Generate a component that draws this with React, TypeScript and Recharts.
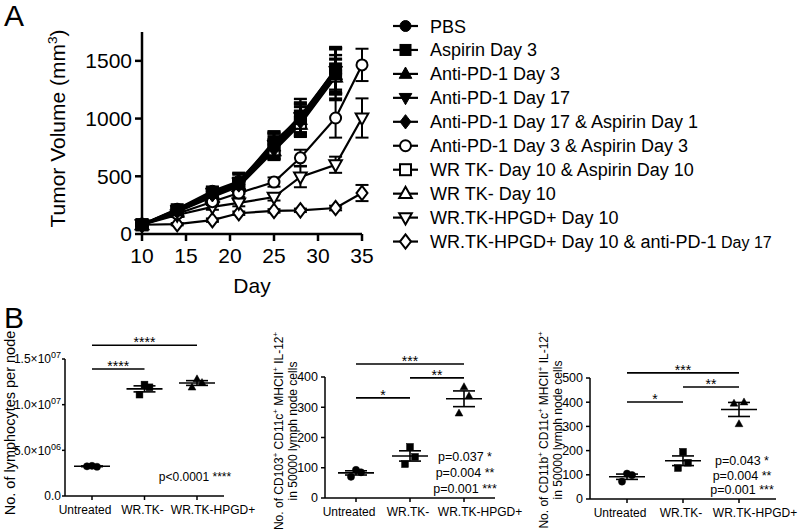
import React from 'react';
import { ComposedChart, Line, XAxis, YAxis, ErrorBar, ReferenceLine } from 'recharts';

const FONT = '"Liberation Sans", Arial, Helvetica, sans-serif';

// ---------------- Panel A data ----------------
const days = [10, 14, 18, 21, 25, 28, 32, 35];
const seriesNames = [
  'PBS',
  'Aspirin Day 3',
  'Anti-PD-1 Day 3',
  'Anti-PD-1 Day 17',
  'Anti-PD-1 Day 17 & Aspirin Day 1',
  'Anti-PD-1 Day 3 & Aspirin Day 3',
  'WR TK- Day 10 & Aspirin Day 10',
  'WR TK- Day 10',
  'WR.TK-HPGD+ Day 10',
  'WR.TK-HPGD+ Day 10 & anti-PD-1 Day 17',
];
const pbs = [80, 215, 370, 455, 780, 1020, 1420, null];
const pbsErr = [12, 30, 40, 70, 100, 150, 200, null];
const aspirinD3 = [80, 210, 360, 440, 800, 1000, 1430, null];
const aspirinD3Err = [12, 25, 35, 90, 90, 120, 180, null];
const antiPd1D3 = [80, 200, 350, 425, 760, 990, 1380, null];
const antiPd1D3Err = [12, 25, 30, 60, 110, 140, 220, null];
const antiPd1D17 = [80, 205, 355, 445, 770, 1010, 1410, null];
const antiPd1D17Err = [12, 25, 35, 70, 100, 130, 200, null];
const antiPd1D17AspD1 = [80, 200, 345, 430, 740, 980, 1390, null];
const antiPd1D17AspD1Err = [12, 20, 30, 50, 80, 120, 160, null];
const antiPd1D3AspD3 = [80, 175, 280, 355, 450, 660, 1005, 1465];
const antiPd1D3AspD3Err = [10, 20, 30, 35, 40, 70, 170, 140];
const wrTkAspD10 = [80, 195, 330, 420, 730, 960, 1370, null];
const wrTkAspD10Err = [10, 20, 30, 45, 80, 110, 150, null];
const wrTkD10 = [80, 190, 320, 410, 720, 950, 1360, null];
const wrTkD10Err = [10, 20, 30, 45, 80, 110, 150, null];
const hpgdD10 = [80, 165, 235, 270, 320, 495, 600, 1005];
const hpgdD10Err = [10, 15, 25, 30, 30, 90, 70, 170];
const hpgdD10Pd1 = [80, 85, 120, 180, 200, 205, 225, 355];
const hpgdD10Pd1Err = [10, 10, 15, 15, 15, 15, 20, 70];

type Shape = 'circle' | 'square' | 'triUp' | 'triDown' | 'diamond';

const seriesA: { key: string; name: string; values: (number | null)[]; errors: (number | null)[]; shape: Shape; filled: boolean }[] = [
  { key: 'pbs', name: seriesNames[0], values: pbs, errors: pbsErr, shape: 'circle', filled: true },
  { key: 'aspD3', name: seriesNames[1], values: aspirinD3, errors: aspirinD3Err, shape: 'square', filled: true },
  { key: 'pd1D3', name: seriesNames[2], values: antiPd1D3, errors: antiPd1D3Err, shape: 'triUp', filled: true },
  { key: 'pd1D17', name: seriesNames[3], values: antiPd1D17, errors: antiPd1D17Err, shape: 'triDown', filled: true },
  { key: 'pd1D17Asp', name: seriesNames[4], values: antiPd1D17AspD1, errors: antiPd1D17AspD1Err, shape: 'diamond', filled: true },
  { key: 'pd1D3Asp', name: seriesNames[5], values: antiPd1D3AspD3, errors: antiPd1D3AspD3Err, shape: 'circle', filled: false },
  { key: 'wrTkAsp', name: seriesNames[6], values: wrTkAspD10, errors: wrTkAspD10Err, shape: 'square', filled: false },
  { key: 'wrTk', name: seriesNames[7], values: wrTkD10, errors: wrTkD10Err, shape: 'triUp', filled: false },
  { key: 'hpgd', name: seriesNames[8], values: hpgdD10, errors: hpgdD10Err, shape: 'triDown', filled: false },
  { key: 'hpgdPd1', name: seriesNames[9], values: hpgdD10Pd1, errors: hpgdD10Pd1Err, shape: 'diamond', filled: false },
];

const tableA = days.map((day, i) => {
  const row: Record<string, number | null> = { day };
  seriesA.forEach((s) => {
    row[s.key] = s.values[i];
    row[s.key + 'Err'] = s.errors[i];
  });
  return row;
});

// ---------------- Panel B data ----------------
const groups = ['Untreated', 'WR.TK-', 'WR.TK-HPGD+'];

const lymphMean = [3.25e6, 11.73e6, 12.37e6];
const lymphSem = [0.04e6, 0.33e6, 0.26e6];
const lymphPts = [[3.3e6, 3.2e6, 3.25e6], [12.2e6, 11.9e6, 11.1e6], [12.8e6, 12.4e6, 11.9e6]];
const lymphTicks = [0, 5e6, 1e7, 1.5e7];

const cd103Mean = [83, 139, 328];
const cd103Sem = [7, 17, 26];
const cd103Pts = [[93, 85, 70], [169, 136, 112], [367, 337, 280]];
const cd103Ticks = [0, 100, 200, 300, 400];

const cd11bMean = [92, 158, 370];
const cd11bSem = [11, 20, 29];
const cd11bPts = [[105, 99, 72], [195, 150, 128], [310, 400, 395]];
const cd11bTicks = [0, 100, 200, 300, 400, 500];

type Sig = { from: string; to: string; y: number; label: string };
const lymphSig: Sig[] = [
  { from: 'Untreated', to: 'WR.TK-', y: 13.9e6, label: '****' },
  { from: 'Untreated', to: 'WR.TK-HPGD+', y: 16.5e6, label: '****' },
];
const cd103Sig: Sig[] = [
  { from: 'Untreated', to: 'WR.TK-', y: 331, label: '*' },
  { from: 'WR.TK-', to: 'WR.TK-HPGD+', y: 397, label: '**' },
  { from: 'Untreated', to: 'WR.TK-HPGD+', y: 443, label: '***' },
];
const cd11bSig: Sig[] = [
  { from: 'Untreated', to: 'WR.TK-', y: 401, label: '*' },
  { from: 'WR.TK-', to: 'WR.TK-HPGD+', y: 463, label: '**' },
  { from: 'Untreated', to: 'WR.TK-HPGD+', y: 521, label: '***' },
];

const lymphP = ['p<0.0001 ****'];
const cd103P = ['p=0.037 *', 'p=0.004 **', 'p=0.001 ***'];
const cd11bP = ['p=0.043 *', 'p=0.004 **', 'p=0.001 ***'];

const buildRows = (mean: number[], sem: number[], pts: number[][]) =>
  groups.map((g, i) => ({ group: g, mean: mean[i], sem: sem[i], p0: pts[i][0], p1: pts[i][1], p2: pts[i][2] }));

const lymphRows = buildRows(lymphMean, lymphSem, lymphPts);
const cd103Rows = buildRows(cd103Mean, cd103Sem, cd103Pts);
const cd11bRows = buildRows(cd11bMean, cd11bSem, cd11bPts);

// ---------------- helpers ----------------
function Marker({ shape, filled, cx, cy, r, sw }: { shape: Shape; filled: boolean; cx: number; cy: number; r: number; sw: number }) {
  const common = { fill: filled ? '#000' : '#fff', stroke: '#000', strokeWidth: sw };
  switch (shape) {
    case 'circle':
      return <circle cx={cx} cy={cy} r={r} {...common} />;
    case 'square':
      return <rect x={cx - r} y={cy - r} width={2 * r} height={2 * r} {...common} />;
    case 'triUp':
      return <polygon points={`${cx},${cy - r * 1.25} ${cx + r * 1.15},${cy + r * 0.8} ${cx - r * 1.15},${cy + r * 0.8}`} {...common} />;
    case 'triDown':
      return <polygon points={`${cx},${cy + r * 1.25} ${cx + r * 1.15},${cy - r * 0.8} ${cx - r * 1.15},${cy - r * 0.8}`} {...common} />;
    default:
      return <polygon points={`${cx},${cy - r * 1.3} ${cx + r},${cy} ${cx},${cy + r * 1.3} ${cx - r},${cy}`} {...common} />;
  }
}

function renderRich(s: string, supSize: number, shift: number) {
  const parts = s.split('^');
  return parts.map((t, i) =>
    i % 2 === 1 ? (
      <tspan key={i} dy={-shift} fontSize={supSize}>{t}</tspan>
    ) : (
      <tspan key={i} dy={i === 0 ? 0 : shift}>{t}</tspan>
    )
  );
}

const vTitle = (lines: string[], baseX: number[], fontSize: number, dyCenter: number) => (props: any) => {
  const vb = props.viewBox || { x: 0, y: 0, width: 0, height: 0 };
  const cy = vb.y + vb.height / 2 + dyCenter;
  return (
    <g>
      {lines.map((l, i) => {
        const x = vb.x + baseX[i];
        return (
          <text key={i} x={x} y={cy} transform={`rotate(-90 ${x} ${cy})`} textAnchor="middle" fontSize={fontSize} fontFamily={FONT} fill="#000">
            {renderRich(l, fontSize * 0.65, fontSize * 0.38)}
          </text>
        );
      })}
    </g>
  );
};

function SciTick(props: any) {
  const { x, y, payload } = props;
  const v = payload.value as number;
  let main = '0.0';
  let exp = '';
  if (v !== 0) {
    const e = Math.floor(Math.log10(v));
    main = (v / Math.pow(10, e)).toFixed(1) + '×10';
    exp = String(e).padStart(2, '0');
  }
  return (
    <text x={x} y={y} dy={4.3} textAnchor="end" fontSize={12} fontFamily={FONT} fill="#000">
      {main}
      {exp && <tspan dy={-5} fontSize={9}>{exp}</tspan>}
    </text>
  );
}

// group label offsets (labels in the figure are not exactly centred on their ticks)
const LABEL_DX = [-7, -2, 16];
function CatTick(props: any) {
  const { x, y, payload } = props;
  const idx = groups.indexOf(payload.value);
  return (
    <text x={x + (LABEL_DX[idx] || 0)} y={y} dy={8.5} textAnchor="middle" fontSize={12} fontFamily={FONT} fill="#000">
      {payload.value}
    </text>
  );
}

const JITTER = [0, 5, -5];
const GROUP_SHAPES: Shape[] = ['circle', 'square', 'triUp'];

function DotPlot(props: {
  left: number; top: number; width: number; height: number;
  margin: { top: number; right: number; bottom: number; left: number };
  yWidth: number; pad: number; rows: any[]; domain: [number, number]; ticks: number[];
  tick?: any; tickSize: number; tickMargin: number; title: any; sig: Sig[];
}) {
  const { left, top, width, height, margin, yWidth, pad, rows, domain, ticks, tick, tickSize, tickMargin, title, sig } = props;
  return (
    <div style={{ position: 'absolute', left, top }}>
      <ComposedChart width={width} height={height} data={rows} margin={margin}>
        <XAxis
          dataKey="group"
          type="category"
          interval={0}
          padding={{ left: pad, right: pad }}
          height={30}
          tickSize={4}
          tickMargin={5}
          axisLine={{ stroke: '#000', strokeWidth: 1.5 }}
          tickLine={{ stroke: '#000', strokeWidth: 1.5 }}
          tick={<CatTick />}
        />
        <YAxis
          type="number"
          width={yWidth}
          domain={domain}
          ticks={ticks}
          interval={0}
          tickSize={tickSize}
          tickMargin={tickMargin}
          axisLine={{ stroke: '#000', strokeWidth: 1.5 }}
          tickLine={{ stroke: '#000', strokeWidth: 1.5 }}
          tick={tick || { fontSize: 12.5, fill: '#000', fontFamily: FONT }}
          label={title}
        />
        {sig.map((s, i) => (
          <ReferenceLine
            key={i}
            segment={[{ x: s.from, y: s.y }, { x: s.to, y: s.y }]}
            stroke="#000"
            strokeWidth={1.6}
            ifOverflow="visible"
            label={{ value: s.label, position: 'top', offset: -2, fontSize: 14, fill: '#000', fontFamily: FONT }}
          />
        ))}
        <Line
          dataKey="mean"
          stroke="none"
          isAnimationActive={false}
          activeDot={false}
          legendType="none"
          dot={(p: any) => (
            <line key={`m-${p.index}`} x1={p.cx - 18} x2={p.cx + 18} y1={p.cy} y2={p.cy} stroke="#000" strokeWidth={1.6} />
          )}
        >
          <ErrorBar dataKey="sem" width={11} stroke="#000" strokeWidth={1.6} />
        </Line>
        {[0, 1, 2].map((k) => (
          <Line
            key={k}
            dataKey={`p${k}`}
            stroke="none"
            isAnimationActive={false}
            activeDot={false}
            legendType="none"
            dot={(p: any) => (
              <g key={`p${k}-${p.index}`}>
                <Marker shape={GROUP_SHAPES[p.index]} filled cx={p.cx + JITTER[k]} cy={p.cy} r={GROUP_SHAPES[p.index] === 'circle' ? 3.6 : 3.4} sw={0.5} />
              </g>
            )}
          />
        ))}
      </ComposedChart>
    </div>
  );
}

const dotFnA = (s: (typeof seriesA)[number]) => (p: any) => {
  const k = `${s.key}-${p.index}`;
  if (p.value == null || p.cy == null || Number.isNaN(p.cy)) return <g key={k} />;
  return (
    <g key={k}>
      <Marker shape={s.shape} filled={s.filled} cx={p.cx} cy={p.cy} r={s.filled ? 6 : 5.5} sw={s.filled ? 1 : 2} />
    </g>
  );
};

export default function App() {
  const drawOrder = [...seriesA].reverse();
  return (
    <div style={{ position: 'absolute', left: 0, top: 0, width: 800, height: 532, background: '#fff', fontFamily: FONT, overflow: 'hidden' }}>
      <div style={{ position: 'absolute', left: 0, top: 0 }}>
        <ComposedChart width={800} height={300} data={tableA} margin={{ top: 32, right: 438, bottom: 36, left: 82 }}>
          <XAxis
            dataKey="day"
            type="number"
            domain={[10, 35]}
            ticks={[10, 15, 20, 25, 30, 35]}
            height={30}
            tickSize={7}
            tickMargin={7}
            axisLine={{ stroke: '#000', strokeWidth: 2.5 }}
            tickLine={{ stroke: '#000', strokeWidth: 2.5 }}
            tick={{ fontSize: 21, fill: '#000', fontFamily: FONT }}
            label={(props: any) => {
              const vb = props.viewBox;
              return (
                <text x={vb.x + vb.width / 2} y={vb.y + 59} textAnchor="middle" fontSize={21} fontFamily={FONT} fill="#000">Day</text>
              );
            }}
          />
          <YAxis
            type="number"
            width={60}
            domain={[0, 1750]}
            ticks={[0, 500, 1000, 1500]}
            interval={0}
            tickSize={7}
            tickMargin={3}
            axisLine={{ stroke: '#000', strokeWidth: 2.5 }}
            tickLine={{ stroke: '#000', strokeWidth: 2.5 }}
            tick={{ fontSize: 21, fill: '#000', fontFamily: FONT }}
            label={vTitle(['Tumor Volume (mm^3^)'], [-17], 21, -4.5)}
          />
          {drawOrder.map((s) => (
            <Line
              key={s.key}
              dataKey={s.key}
              name={s.name}
              stroke="#000"
              strokeWidth={s.filled ? 2.8 : 2.2}
              isAnimationActive={false}
              activeDot={false}
              dot={dotFnA(s)}
            >
              <ErrorBar dataKey={s.key + 'Err'} width={6.5} stroke="#000" strokeWidth={s.filled ? 2.4 : 2} />
            </Line>
          ))}
        </ComposedChart>
      </div>

      <DotPlot
        left={0} top={320} width={260} height={212}
        margin={{ top: 39, right: 36, bottom: 6, left: 0 }}
        yWidth={65} pad={27} rows={lymphRows} domain={[0, 1.5e7]} ticks={lymphTicks}
        tick={<SciTick />} tickSize={3} tickMargin={1}
        title={vTitle(['No. of lymphocytes per node'], [15], 14.5, -4.5)}
        sig={lymphSig}
      />
      <DotPlot
        left={270} top={320} width={265} height={212}
        margin={{ top: 57, right: 40, bottom: 4, left: 0 }}
        yWidth={55} pad={31} rows={cd103Rows} domain={[0, 400]} ticks={cd103Ticks}
        tickSize={4} tickMargin={3}
        title={vTitle(['No. of CD103^+^ CD11c^+^ MHCII^+^ IL-12^+^', 'in 50000 lymph node cells'], [13, 27], 12, -6.5)}
        sig={cd103Sig}
      />
      <DotPlot
        left={535} top={320} width={265} height={212}
        margin={{ top: 58, right: 24, bottom: 3, left: 0 }}
        yWidth={55} pad={37} rows={cd11bRows} domain={[0, 500]} ticks={cd11bTicks}
        tickSize={4} tickMargin={3}
        title={vTitle(['No. of CD11b^+^ CD11c^+^ MHCII^+^ IL-12^+^', 'in 50000 lymph node cells'], [13, 27], 12, -8.5)}
        sig={cd11bSig}
      />

      <svg width={800} height={532} style={{ position: 'absolute', left: 0, top: 0, pointerEvents: 'none' }}>
        <text x={4} y={26} fontSize={30} fontFamily={FONT} fill="#000">A</text>
        <text x={4} y={328} fontSize={30} fontFamily={FONT} fill="#000">B</text>
        {seriesA.map((s, i) => {
          const cy = 26 + i * 23.95;
          const isLast = i === seriesA.length - 1;
          return (
            <g key={s.key}>
              <line x1={393} x2={418} y1={cy} y2={cy} stroke="#000" strokeWidth={2.2} />
              <Marker shape={s.shape} filled={s.filled} cx={405.5} cy={cy} r={5.5} sw={s.filled ? 1 : 2} />
              <text x={430} y={cy + 6.5} fontSize={18} fontFamily={FONT} fill="#000">
                {isLast ? (
                  <>
                    {'WR.TK-HPGD+ Day 10 & anti-PD-1'}
                    <tspan fontSize={16}>{' Day 17'}</tspan>
                  </>
                ) : (
                  s.name
                )}
              </text>
            </g>
          );
        })}
        {lymphP.map((t, i) => (
          <text key={i} x={195} y={481 + i * 16} textAnchor="middle" fontSize={12} fontFamily={FONT} fill="#000">{t}</text>
        ))}
        {cd103P.map((t, i) => (
          <text key={i} x={465} y={461 + i * 16} textAnchor="middle" fontSize={12.5} fontFamily={FONT} fill="#000">{t}</text>
        ))}
        {cd11bP.map((t, i) => (
          <text key={i} x={742} y={465 + i * 14.5} textAnchor="middle" fontSize={12.5} fontFamily={FONT} fill="#000">{t}</text>
        ))}
      </svg>
    </div>
  );
}
